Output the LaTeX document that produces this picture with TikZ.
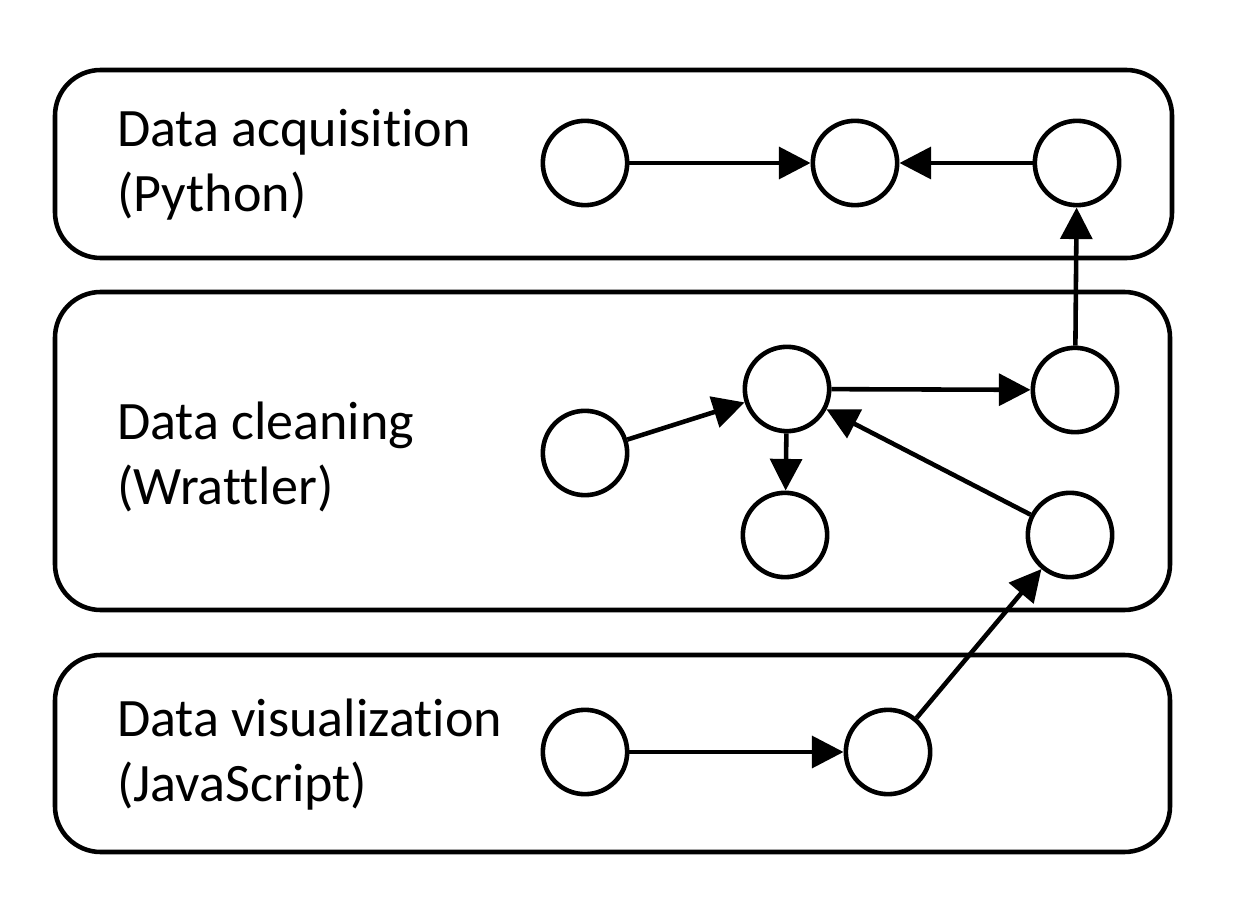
\documentclass[tikz,border=0pt]{standalone}
\usepackage{fontspec}
\setmainfont[Ligatures=NoCommon]{Carlito}
\usetikzlibrary{arrows.meta, positioning}

\begin{document}
\begin{tikzpicture}[x=0.02cm, y=-0.02cm, line width=2.6pt,
    >={Triangle[length=18pt, width=18pt]},
    lane/.style={rounded corners=26pt},
    task/.style={draw, circle, minimum size=48pt, inner sep=0pt},
    lbl/.style={anchor=west, align=left, font=\fontsize{30.8}{37}\selectfont}]
                        \useasboundingbox (0,0) rectangle (1234,915);
                        \draw[lane] (55,70) rectangle (1172,258);
                        \draw[lane] (55,292) rectangle (1170,610);
                        \draw[lane] (55,655) rectangle (1170,852);
                        \node[lbl] (lacq) at (109,165) {Data acquisition\\(Python)};
                        \node[lbl] (lcln) at (109,457) {Data cleaning\\(Wrattler)};
                        \node[lbl] (lvis) at (109,755) {Data visualization\\(JavaScript)};
                        \node[task] (a1) at (585,163) {};
                        \node[task] (a2) at (855,163) {};
                        \node[task] (a3) at (1077,163) {};
                        \node[task] (c1) at (585,453) {};
                        \node[task] (c2) at (787,389) {};
                        \node[task] (c3) at (1075,390) {};
                        \node[task] (c4) at (785,535) {};
                        \node[task] (c5) at (1070,535) {};
                        \node[task] (v1) at (585,752) {};
                        \node[task] (v2) at (888,752) {};
                        \draw
                        (a1) edge[->] (a2)
                        (a3) edge[->] (a2)
                        (c3) edge[->] (a3)
                        (c1) edge[->] (c2)
                        (c2) edge[->] (c3)
                        (c2) edge[->] (c4)
                        (c5) edge[->] (c2)
                        (v1) edge[->] (v2)
                        (v2) edge[->] (c5);
                    \end{tikzpicture}
\end{document}
